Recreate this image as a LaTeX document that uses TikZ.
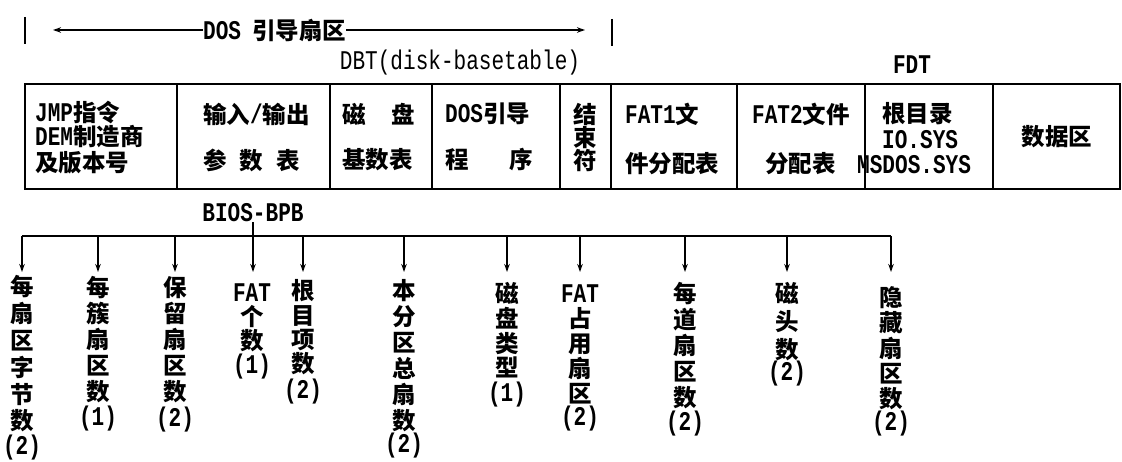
\documentclass[tikz,border=0pt]{standalone}
\usepackage{fontspec}
\setmainfont{Noto Sans CJK SC}
\newfontfamily\lat[FakeStretch=0.78]{Liberation Mono}
\usetikzlibrary{arrows.meta}
\newcommand\latn[1]{{\lat\fontsize{27}{26}\selectfont #1}}
\begin{document}
\begin{tikzpicture}[x=1pt,y=-1pt,
  cjk/.style={font=\fontsize{23.5}{26}\selectfont\bfseries, inner sep=0pt},
  lbl/.style={cjk, anchor=west},
  col/.style={inner sep=0pt, align=center, anchor=north, font=\fontsize{23.5}{#1}\selectfont\bfseries},
  arr/.style={line width=1.3pt, -{Stealth[length=8pt,width=5.5pt]}},
  bar/.style={line width=2.2pt},
  cell/.style={draw, line width=2.2pt, minimum height=105pt, inner sep=0pt, outer sep=0pt, anchor=north west},
  bus/.style={line width=1.8pt}]
\useasboundingbox (0,0) rectangle (1122,462);
% top line
\node[cjk, anchor=west] (title) at (203,30) {\latn{DOS}\hspace{11pt}引导扇区};
\coordinate (la) at (53,30);
\coordinate (ra) at (585,30);
\draw[arr] (title.west) -- (la);
\draw[arr] (title.east) -- (ra);
\coordinate (b1t) at (25,17); \coordinate (b1b) at (25,44);
\coordinate (b2t) at (612,19); \coordinate (b2b) at (612,46);
\draw[bar] (b1t) -- (b1b);
\draw[bar] (b2t) -- (b2b);
\node[inner sep=0pt, font=\lat\fontsize{27}{26}\selectfont] (dbt) at (460,63) {DBT(disk-basetable)};
\node[inner sep=0pt, font=\lat\fontsize{27}{26}\selectfont\bfseries] (fdt) at (912,65) {FDT};
% cells
\node[cell, minimum width=152pt] (k1) at (25,84) {};
\node[cell, minimum width=153pt] (k2) at (k1.north east) {};
\node[cell, minimum width=102pt] (k3) at (k2.north east) {};
\node[cell, minimum width=128pt] (k4) at (k3.north east) {};
\node[cell, minimum width=51pt] (k5) at (k4.north east) {};
\node[cell, minimum width=126pt] (k6) at (k5.north east) {};
\node[cell, minimum width=128pt] (k7) at (k6.north east) {};
\node[cell, minimum width=128pt] (k8) at (k7.north east) {};
\node[cell, minimum width=127pt] (k9) at (k8.north east) {};
% cell texts
\node[lbl] (t1a) at (35,113) {\latn{JMP}指令};
\node[lbl] (t1b) at (35,137) {\latn{DEM}制造商};
\node[lbl] (t1c) at (35,163) {及版本号};
\node[lbl] (t2a) at (203,114) {输入\latn{/}输出};
\node[lbl] (t2b) at (203,160) {参\hspace{13pt}数\hspace{13pt}表};
\node[lbl] (t3a) at (342,114) {磁\hspace{26pt}盘};
\node[lbl] (t3b) at (342,160) {基数表};
\node[lbl] (t4a) at (445,114) {\latn{DOS}引导};
\node[lbl] (t4b) at (445,160) {程\hspace{41pt}序};
\node[col=23] (t5) at (585,103) {结\\束\\符};
\node[lbl] (t6a) at (625,114) {\latn{FAT1}文};
\node[lbl] (t6b) at (625,164) {件分配表};
\node[lbl] (t7a) at (752,114) {\latn{FAT2}文件};
\node[lbl] (t7b) at (765,164) {分配表};
\node[lbl] (t8a) at (882,114) {根目录};
\node[lbl] (t8b) at (882,140) {\latn{IO.SYS}};
\node[lbl] (t8c) at (857,165) {\latn{MSDOS.SYS}};
\node[cjk] (t9) at (1057,137) {数据区};
% BPB
\node[inner sep=0pt, font=\lat\fontsize{27}{26}\selectfont\bfseries] (bpb) at (253,213) {BIOS-BPB};
\coordinate (busL) at (22,236);
\coordinate (busR) at (891,236);
\coordinate (tip) at (0,272);
\draw[bus] (busL) -- (busR);
% columns
\node[col=26.8] (c1) at (22,275.5) {每\\扇\\区\\字\\节\\数\\[-2pt]\latn{(2)}};
\node[col=26] (c2) at (98,276.5) {每\\簇\\扇\\区\\数\\[-1pt]\latn{(1)}};
\node[col=26] (c3) at (175,276.5) {保\\留\\扇\\区\\数\\\latn{(2)}};
\node[col=24] (c4) at (252,283.5) {\latn{FAT}\\个\\数\\\latn{(1)}};
\node[col=24.3] (c5) at (303,279.5) {根\\目\\项\\数\\[2pt]\latn{(2)}};
\node[col=26] (c6) at (404,279.5) {本\\分\\区\\总\\扇\\数\\[-3pt]\latn{(2)}};
\node[col=24.7] (c7) at (507,282.5) {磁\\盘\\类\\型\\\latn{(1)}};
\node[col=25] (c8) at (580,284.5) {\latn{FAT}\\占\\用\\扇\\区\\[-2pt]\latn{(2)}};
\node[col=26] (c9) at (685,282.5) {每\\道\\扇\\区\\数\\[-2pt]\latn{(2)}};
\node[col=28] (c10) at (787,282.5) {磁\\头\\数\\[-6pt]\latn{(2)}};
\node[col=25.3] (c11) at (891,286.5) {隐\\藏\\扇\\区\\数\\[-3pt]\latn{(2)}};
% arrows
\draw[arr] (bpb.south) -- (bpb.south |- tip);
\foreach \c in {c1,c2,c3,c5,c6,c7,c8,c9,c10,c11}
  \draw[arr] (\c |- busL) -- (\c |- tip);
\end{tikzpicture}
\end{document}
